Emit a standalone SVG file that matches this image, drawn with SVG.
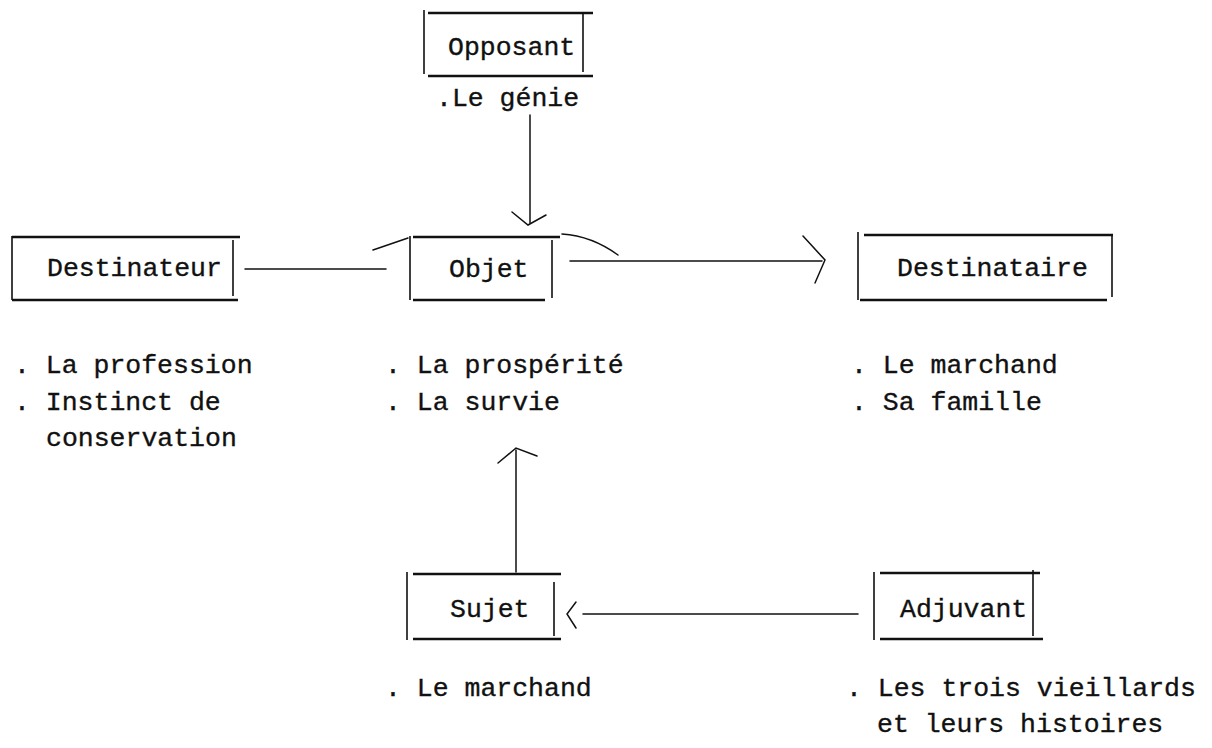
<svg xmlns="http://www.w3.org/2000/svg" width="1212" height="748" viewBox="0 0 1212 748">
<style>
text{font-family:"Liberation Mono","DejaVu Sans Mono",monospace;font-size:26.5px;fill:#111;stroke:#111;stroke-width:0.35}
.h{stroke:#111;stroke-width:2.6;fill:none}
.v{stroke:#111;stroke-width:1.6;fill:none}
.c{stroke:#111;stroke-width:1.5;fill:none;stroke-linecap:round}
</style>
<rect width="1212" height="748" fill="#fff"/>
<g id="connectors">
<path class="c" d="M245 269H386"/>
<path class="c" d="M373 250L408 238"/>
<path class="c" d="M570 261H822"/>
<path class="c" d="M803 236L825 260L815 283"/>
<path class="c" d="M562 234Q592 236 618 255"/>
<path class="c" d="M530 115V223"/>
<path class="c" d="M512 212L528 225L546 215"/>
<path class="c" d="M516 572V450"/>
<path class="c" d="M498 463L516 448L537 456"/>
<path class="c" d="M583 614H858"/>
<path class="c" d="M576 602L567 614L576 628"/>
</g>
<g id="opposant">
<path class="h" d="M428 13H593M428 76H593"/>
<path class="v" d="M424 10V74M583 12V72"/>
<text x="448" y="55">Opposant</text>
<text x="436" y="106">.Le génie</text>
</g>
<g id="destinateur">
<path class="h" d="M12 237H240M12 300H238"/>
<path class="v" d="M12 236V300M233 240V296"/>
<text x="47" y="276">Destinateur</text>
<text x="14" y="373">. La profession</text>
<text x="14" y="410">. Instinct de</text>
<text x="46" y="446">conservation</text>
</g>
<g id="objet">
<path class="h" d="M413 237H560M413 300H545"/>
<path class="v" d="M410 236V300M552 240V298"/>
<text x="449" y="277">Objet</text>
<text x="385" y="373">. La prospérité</text>
<text x="385" y="410">. La survie</text>
</g>
<g id="destinataire">
<path class="h" d="M864 235H1113M860 300H1107"/>
<path class="v" d="M858 232V300M1112 236V297"/>
<text x="897" y="276">Destinataire</text>
<text x="851" y="373">. Le marchand</text>
<text x="851" y="410">. Sa famille</text>
</g>
<g id="sujet">
<path class="h" d="M413 574H561M413 639H561"/>
<path class="v" d="M407 572V640M554 582V636"/>
<text x="450" y="617">Sujet</text>
<text x="385" y="696">. Le marchand</text>
</g>
<g id="adjuvant">
<path class="h" d="M880 573H1040M880 639H1043"/>
<path class="v" d="M874 572V640M1033 570V636"/>
<text x="900" y="617">Adjuvant</text>
<text x="846" y="696">. Les trois vieillards</text>
<text x="877" y="732">et leurs histoires</text>
</g>
</svg>
